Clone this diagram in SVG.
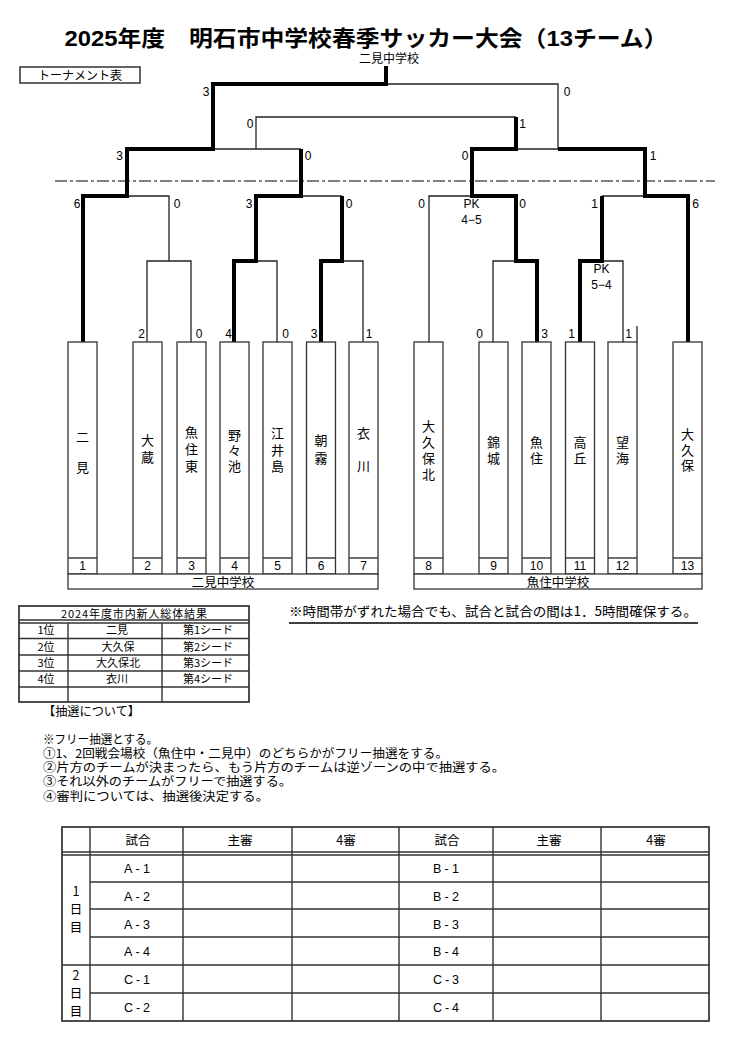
<svg xmlns="http://www.w3.org/2000/svg" width="742" height="1037" viewBox="0 0 742 1037">
<style>
text{font-family:"Liberation Sans","Noto Sans CJK JP",sans-serif;fill:#000}
.j{font-family:"Noto Sans CJK JP",sans-serif}
.t{stroke:#222;stroke-width:1.3;fill:none}
.k{stroke:#000;stroke-width:4;fill:none;stroke-linejoin:miter}
.b{stroke:#333;stroke-width:1.3;fill:#fff}
.g{stroke:#333;stroke-width:1.4;fill:none}
.s{font-size:12px;text-anchor:middle}
.n{font-size:13px;text-anchor:middle}
.c{font-size:11px;text-anchor:middle}
.m{font-size:12.5px;text-anchor:middle}
.l{font-size:12px}
</style>
<g id="title">
<text x="366" y="46" font-size="22" font-weight="bold" text-anchor="middle" textLength="603" lengthAdjust="spacingAndGlyphs">2025年度　明石市中学校春季サッカー大会（13チーム）</text>
<text class="s j" x="389" y="63">二見中学校</text>
<rect x="20" y="67" width="120" height="16" fill="#fff" stroke="#333" stroke-width="1.5"/>
<text class="s j" x="80" y="79.5">トーナメント表</text>
</g>
<g id="connectors">
<line x1="55" y1="181" x2="715" y2="181" stroke="#000" stroke-width="1.2" stroke-dasharray="12,3,3,3"/>
<path class="t" d="M516,149 H558 V84 H386"/>
<path class="t" d="M213,149 H301"/>
<path class="t" d="M256,149 V117 H516"/>
<path class="t" d="M127,196 H169 V261"/>
<path class="t" d="M147,342 V261 H191 V342"/>
<path class="t" d="M256,261 H277 V342"/>
<path class="t" d="M301,196 H342"/>
<path class="t" d="M342,261 H363 V342"/>
<path class="t" d="M429,342 V196 H472"/>
<path class="t" d="M493,342 V261 H516"/>
<path class="t" d="M602,261 H623 V342"/>
<path class="t" d="M602,196 H645"/>
<path class="t" d="M637,326 V342"/>
<path class="k" d="M83,342 V196 H127 V149 H213 V84 H386 V66"/>
<path class="k" d="M234,342 V261 H256 V196 H301 V149"/>
<path class="k" d="M321,342 V261 H342 V196"/>
<path class="k" d="M537,342 V261 H516 V196 H472 V149 H516 V117"/>
<path class="k" d="M580,342 V261 H602 V196"/>
<path class="k" d="M688,342 V196 H645 V149 H558"/>
</g>
<g id="scores">
<text class="s" x="206" y="96">3</text>
<text class="s" x="567" y="96">0</text>
<text class="s" x="250" y="128">0</text>
<text class="s" x="522.5" y="128">1</text>
<text class="s" x="119.5" y="160">3</text>
<text class="s" x="308" y="160">0</text>
<text class="s" x="465" y="160">0</text>
<text class="s" x="653" y="160">1</text>
<text class="s" x="77" y="208">6</text>
<text class="s" x="177" y="208">0</text>
<text class="s" x="249" y="208">3</text>
<text class="s" x="349" y="208">0</text>
<text class="s" x="421.5" y="208">0</text>
<text class="s" x="522.5" y="208">0</text>
<text class="s" x="594.5" y="208">1</text>
<text class="s" x="695.5" y="208">6</text>
<text class="s" x="471.5" y="208">PK</text>
<text class="s" x="471.5" y="224">4−5</text>
<text class="s" x="601.5" y="273">PK</text>
<text class="s" x="601.5" y="289">5−4</text>
<text class="s" x="141.5" y="338">2</text>
<text class="s" x="199" y="338">0</text>
<text class="s" x="228.5" y="338">4</text>
<text class="s" x="285.5" y="338">0</text>
<text class="s" x="314" y="338">3</text>
<text class="s" x="369" y="338">1</text>
<text class="s" x="479.5" y="338">0</text>
<text class="s" x="544.5" y="338">3</text>
<text class="s" x="571.5" y="338">1</text>
<text class="s" x="628.5" y="338">1</text>
</g>
<g id="team1"><rect class="b" x="68" y="342" width="29" height="232"/><line class="g" x1="68" y1="558" x2="97" y2="558"/><text class="n j"><tspan x="82.5" y="442">二</tspan><tspan x="82.5" y="472">見</tspan></text><text class="s" x="82.5" y="570">1</text></g>
<g id="team2"><rect class="b" x="133" y="342" width="29" height="232"/><line class="g" x1="133" y1="558" x2="162" y2="558"/><text class="n j"><tspan x="147.5" y="445">大</tspan><tspan x="147.5" y="462">蔵</tspan></text><text class="s" x="147.5" y="570">2</text></g>
<g id="team3"><rect class="b" x="177" y="342" width="29" height="232"/><line class="g" x1="177" y1="558" x2="206" y2="558"/><text class="n j"><tspan x="191.5" y="437">魚</tspan><tspan x="191.5" y="453.5">住</tspan><tspan x="191.5" y="471">東</tspan></text><text class="s" x="191.5" y="570">3</text></g>
<g id="team4"><rect class="b" x="220" y="342" width="29" height="232"/><line class="g" x1="220" y1="558" x2="249" y2="558"/><text class="n j"><tspan x="234.5" y="440">野</tspan><tspan x="234.5" y="455">々</tspan><tspan x="234.5" y="471">池</tspan></text><text class="s" x="234.5" y="570">4</text></g>
<g id="team5"><rect class="b" x="263" y="342" width="29" height="232"/><line class="g" x1="263" y1="558" x2="292" y2="558"/><text class="n j"><tspan x="277.5" y="438">江</tspan><tspan x="277.5" y="455">井</tspan><tspan x="277.5" y="471">島</tspan></text><text class="s" x="277.5" y="570">5</text></g>
<g id="team6"><rect class="b" x="306.5" y="342" width="29" height="232"/><line class="g" x1="306.5" y1="558" x2="335.5" y2="558"/><text class="n j"><tspan x="321" y="445">朝</tspan><tspan x="321" y="463">霧</tspan></text><text class="s" x="321" y="570">6</text></g>
<g id="team7"><rect class="b" x="349" y="342" width="29" height="232"/><line class="g" x1="349" y1="558" x2="378" y2="558"/><text class="n j"><tspan x="363.5" y="438">衣</tspan><tspan x="363.5" y="471">川</tspan></text><text class="s" x="363.5" y="570">7</text></g>
<g id="team8"><rect class="b" x="414" y="342" width="29" height="232"/><line class="g" x1="414" y1="558" x2="443" y2="558"/><text class="n j"><tspan x="428.5" y="431">大</tspan><tspan x="428.5" y="447">久</tspan><tspan x="428.5" y="462.5">保</tspan><tspan x="428.5" y="479">北</tspan></text><text class="s" x="428.5" y="570">8</text></g>
<g id="team9"><rect class="b" x="479" y="342" width="29" height="232"/><line class="g" x1="479" y1="558" x2="508" y2="558"/><text class="n j"><tspan x="493.5" y="447">錦</tspan><tspan x="493.5" y="462.5">城</tspan></text><text class="s" x="493.5" y="570">9</text></g>
<g id="team10"><rect class="b" x="522" y="342" width="29" height="232"/><line class="g" x1="522" y1="558" x2="551" y2="558"/><text class="n j"><tspan x="536.5" y="447">魚</tspan><tspan x="536.5" y="462.5">住</tspan></text><text class="s" x="536.5" y="570">10</text></g>
<g id="team11"><rect class="b" x="565.5" y="342" width="29" height="232"/><line class="g" x1="565.5" y1="558" x2="594.5" y2="558"/><text class="n j"><tspan x="580" y="447">高</tspan><tspan x="580" y="462.5">丘</tspan></text><text class="s" x="580" y="570">11</text></g>
<g id="team12"><rect class="b" x="608" y="342" width="29" height="232"/><line class="g" x1="608" y1="558" x2="637" y2="558"/><text class="n j"><tspan x="622.5" y="447">望</tspan><tspan x="622.5" y="462.5">海</tspan></text><text class="s" x="622.5" y="570">12</text></g>
<g id="team13"><rect class="b" x="673" y="342" width="29" height="232"/><line class="g" x1="673" y1="558" x2="702" y2="558"/><text class="n j"><tspan x="687.5" y="439">大</tspan><tspan x="687.5" y="454.5">久</tspan><tspan x="687.5" y="470">保</tspan></text><text class="s" x="687.5" y="570">13</text></g>
<g id="venue-left"><rect class="b" x="68" y="574" width="310" height="15"/><text class="m j" x="223" y="586.5">二見中学校</text></g>
<g id="venue-right"><rect class="b" x="414" y="574" width="288" height="15"/><text class="m j" x="558" y="586.5">魚住中学校</text></g>
<g id="note-time">
<text class="j" x="289" y="616" font-size="13" textLength="408" lengthAdjust="spacingAndGlyphs">※時間帯がずれた場合でも、試合と試合の間は1．5時間確保する。</text>
<line x1="289" y1="623" x2="698" y2="623" stroke="#000" stroke-width="1.5"/>
</g>
<g id="seed-table">
<rect x="19" y="606" width="230" height="96" fill="none" stroke="#222" stroke-width="1.6"/>
<line class="g" x1="19" y1="620" x2="249" y2="620"/>
<line class="g" x1="19" y1="623" x2="249" y2="623"/>
<line class="g" x1="19" y1="638.5" x2="249" y2="638.5"/>
<line class="g" x1="19" y1="655" x2="249" y2="655"/>
<line class="g" x1="19" y1="671" x2="249" y2="671"/>
<line class="g" x1="19" y1="687" x2="249" y2="687"/>
<line class="g" x1="68" y1="623" x2="68" y2="702"/>
<line class="g" x1="162" y1="623" x2="162" y2="702"/>
<text class="c j" x="134" y="618" textLength="146" lengthAdjust="spacing">2024年度市内新人総体結果</text>
<text class="c j" x="46" y="634">1位</text><text class="c j" x="117" y="634">二見</text><text class="c j" x="208" y="634">第1シード</text>
<text class="c j" x="46" y="651">2位</text><text class="c j" x="118" y="651">大久保</text><text class="c j" x="208" y="651">第2シード</text>
<text class="c j" x="46" y="667">3位</text><text class="c j" x="118" y="667">大久保北</text><text class="c j" x="208" y="667">第3シード</text>
<text class="c j" x="46" y="683">4位</text><text class="c j" x="117" y="683">衣川</text><text class="c j" x="208" y="683">第4シード</text>
</g>
<g id="lottery-notes">
<text class="l j" x="43" y="716" textLength="97" lengthAdjust="spacingAndGlyphs">【抽選について】</text>
<text class="l j" x="43" y="744" textLength="115" lengthAdjust="spacingAndGlyphs">※フリー抽選とする。</text>
<text class="l j" x="43" y="757.5" textLength="405" lengthAdjust="spacingAndGlyphs">①1、2回戦会場校（魚住中・二見中）のどちらかがフリー抽選をする。</text>
<text class="l j" x="43" y="771.5" textLength="462" lengthAdjust="spacingAndGlyphs">②片方のチームが決まったら、もう片方のチームは逆ゾーンの中で抽選する。</text>
<text class="l j" x="43" y="786" textLength="249" lengthAdjust="spacingAndGlyphs">③それ以外のチームがフリーで抽選する。</text>
<text class="l j" x="43" y="801" textLength="226" lengthAdjust="spacingAndGlyphs">④審判については、抽選後決定する。</text>
</g>
<g id="referee-table">
<rect x="62" y="827" width="647" height="194" fill="none" stroke="#222" stroke-width="1.6"/>
<line class="g" x1="62" y1="852" x2="709" y2="852"/>
<line class="g" x1="62" y1="855" x2="709" y2="855"/>
<line class="g" x1="90" y1="882" x2="709" y2="882"/>
<line class="g" x1="90" y1="909" x2="709" y2="909"/>
<line class="g" x1="90" y1="937" x2="709" y2="937"/>
<line class="g" x1="62" y1="965" x2="709" y2="965"/>
<line class="g" x1="90" y1="993" x2="709" y2="993"/>
<line class="g" x1="90" y1="827" x2="90" y2="1021"/>
<line class="g" x1="183" y1="827" x2="183" y2="1021"/>
<line class="g" x1="292" y1="827" x2="292" y2="1021"/>
<line class="g" x1="399" y1="827" x2="399" y2="1021"/>
<line class="g" x1="493" y1="827" x2="493" y2="1021"/>
<line class="g" x1="601" y1="827" x2="601" y2="1021"/>
<text class="m j" x="138" y="844.5">試合</text><text class="m j" x="240" y="844.5">主審</text><text class="m j" x="346" y="844.5">4審</text>
<text class="m j" x="447" y="844.5">試合</text><text class="m j" x="549" y="844.5">主審</text><text class="m j" x="656" y="844.5">4審</text>
<text class="m j"><tspan x="76" y="895.5">1</tspan><tspan x="76" y="914">日</tspan><tspan x="76" y="932">目</tspan></text>
<text class="m j"><tspan x="76" y="980">2</tspan><tspan x="76" y="998">日</tspan><tspan x="76" y="1016">目</tspan></text>
<text class="m" x="137" y="873" textLength="26" lengthAdjust="spacing">A-1</text>
<text class="m" x="137" y="900.5" textLength="26" lengthAdjust="spacing">A-2</text>
<text class="m" x="137" y="928.5" textLength="26" lengthAdjust="spacing">A-3</text>
<text class="m" x="137" y="956" textLength="26" lengthAdjust="spacing">A-4</text>
<text class="m" x="137" y="984" textLength="26" lengthAdjust="spacing">C-1</text>
<text class="m" x="137" y="1012" textLength="26" lengthAdjust="spacing">C-2</text>
<text class="m" x="446" y="873" textLength="26" lengthAdjust="spacing">B-1</text>
<text class="m" x="446" y="900.5" textLength="26" lengthAdjust="spacing">B-2</text>
<text class="m" x="446" y="928.5" textLength="26" lengthAdjust="spacing">B-3</text>
<text class="m" x="446" y="956" textLength="26" lengthAdjust="spacing">B-4</text>
<text class="m" x="446" y="984" textLength="26" lengthAdjust="spacing">C-3</text>
<text class="m" x="446" y="1012" textLength="26" lengthAdjust="spacing">C-4</text>
</g>
</svg>
